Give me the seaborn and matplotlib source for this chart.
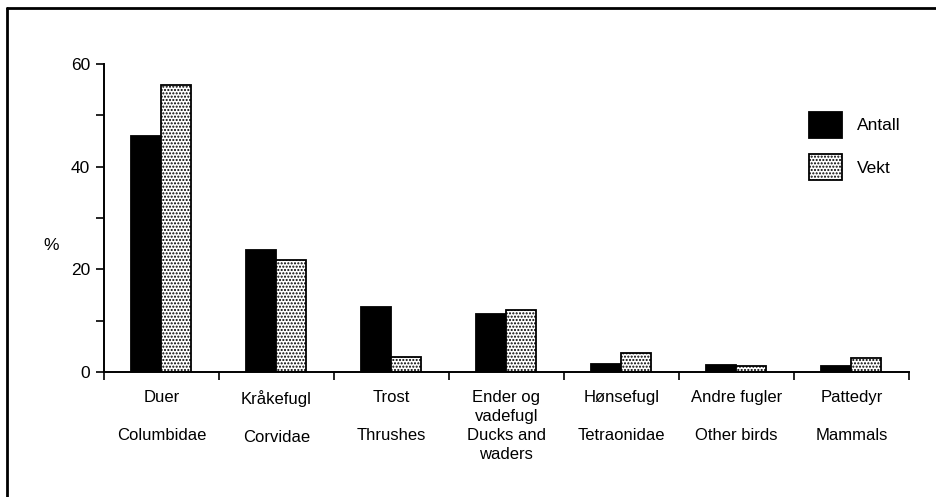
import pandas as pd
import matplotlib
matplotlib.use('Agg')
import matplotlib.pyplot as plt
from matplotlib.lines import Line2D
from matplotlib.ticker import MultipleLocator, FixedLocator
import seaborn as sns

sns.set_style('white')
plt.rcParams['font.family'] = ['Liberation Sans', 'DejaVu Sans']
plt.rcParams['text.color'] = 'black'
plt.rcParams['hatch.linewidth'] = 1.0

categories = ['Duer\n\nColumbidae', 'Kråkefugl\n\nCorvidae', 'Trost\n\nThrushes',
              'Ender og\nvadefugl\nDucks and\nwaders', 'Hønsefugl\n\nTetraonidae',
              'Andre fugler\n\nOther birds', 'Pattedyr\n\nMammals']
antall = [46.0, 23.7, 12.7, 11.4, 1.5, 1.4, 1.1]
vekt = [56.0, 21.9, 2.9, 12.0, 3.7, 1.1, 2.8]
series = ['Antall', 'Vekt']

df = pd.DataFrame({
    'Gruppe': categories * 2,
    'Serie': ['Antall'] * len(categories) + ['Vekt'] * len(categories),
    'Prosent': antall + vekt,
})

fig = plt.figure(figsize=(9.36, 4.97), dpi=100)
ax = fig.add_axes([0.111, 0.2515, 0.86, 0.6195])

sns.barplot(data=df, x='Gruppe', y='Prosent', hue='Serie', hue_order=series,
            palette={'Antall': 'black', 'Vekt': 'white'}, width=0.52,
            edgecolor='black', linewidth=1.3, legend=False, ax=ax)

# dotted fill for the weight series
for bar in ax.containers[1]:
    bar.set_hatch('.....')

ax.set_xlim(-0.5, 6.5)
ax.set_ylim(0, 60)
ax.set_xlabel('')
ax.set_ylabel('%', rotation=0, fontsize=12.5, va='center', ha='center', color='black')
ax.yaxis.set_label_coords(-0.065, 0.41)

for side in ['top', 'right']:
    ax.spines[side].set_visible(False)
for side in ['left', 'bottom']:
    ax.spines[side].set_linewidth(1.4)
    ax.spines[side].set_color('black')

ax.yaxis.set_major_locator(MultipleLocator(20))
ax.yaxis.set_minor_locator(MultipleLocator(10))
ax.tick_params(axis='y', which='both', direction='out', length=6, width=1.2,
               left=True, labelsize=12.5, pad=4, colors='black')

ax.xaxis.set_minor_locator(FixedLocator([i - 0.5 for i in range(len(categories) + 1)]))
ax.tick_params(axis='x', which='major', length=0, pad=13, labelsize=12, labelcolor='black')
ax.tick_params(axis='x', which='minor', direction='out', length=6, width=1.2,
               bottom=True, color='black')
for lab in ax.get_xticklabels():
    lab.set_linespacing(1.32)

ax.legend(ax.containers, series, frameon=False, fontsize=12.5,
          loc='upper left', bbox_to_anchor=(0.856, 0.895),
          handlelength=1.9, handleheight=1.9, handletextpad=0.9, labelspacing=0.95)

# frame lines of the scanned page
fig.add_artist(Line2D([0.007, 1.0], [0.984, 0.984], color='black', lw=2))
fig.add_artist(Line2D([0.007, 0.007], [0.0, 0.984], color='black', lw=2))

fig.savefig('out.png', dpi=100)
